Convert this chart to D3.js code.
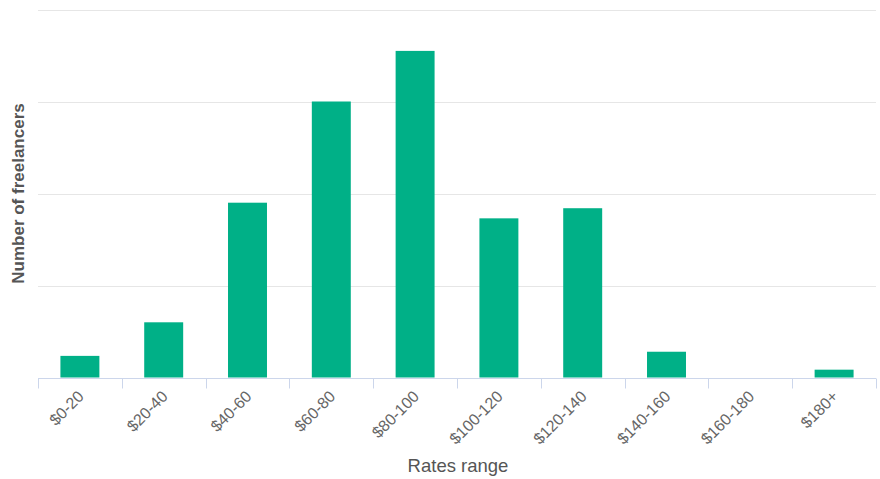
<!DOCTYPE html>
<html>
<head>
<meta charset="utf-8">
<script src="https://cdn.jsdelivr.net/npm/d3@7"></script>
<style>
  html, body { margin: 0; padding: 0; background: #fff; }
  svg { display: block; font-family: "Liberation Sans", Arial, sans-serif; }
</style>
</head>
<body>
<svg id="chart" width="880" height="479"></svg>
<script>
const categories = ["$0-20", "$20-40", "$40-60", "$60-80", "$80-100", "$100-120", "$120-140", "$140-160", "$160-180", "$180+"];
const freelancers = [4.7, 12, 38, 60, 71, 34.6, 36.8, 5.6, 0, 1.7];
const yTicks = [0, 20, 40, 60, 80];

const svg = d3.select("#chart");
const margin = { left: 38, right: 4, top: 9.5, bottom: 101.5 };
const W = 880, H = 479;
const x = d3.scaleBand().domain(categories).range([margin.left, W - margin.right]).paddingInner(0.535).paddingOuter(0.2675);
const y = d3.scaleLinear().domain([0, 80]).range([H - margin.bottom, margin.top]);

// gridlines
svg.append("g").selectAll("line").data(yTicks.filter(d => d > 0)).join("line")
  .attr("x1", margin.left).attr("x2", W - margin.right)
  .attr("y1", d => Math.round(y(d)) + 0.5).attr("y2", d => Math.round(y(d)) + 0.5)
  .attr("stroke", "#e6e6e6").attr("stroke-width", 1);

// bars
svg.append("g").selectAll("rect").data(categories).join("rect")
  .attr("x", d => x(d))
  .attr("width", x.bandwidth())
  .attr("y", (d, i) => y(freelancers[i]))
  .attr("height", (d, i) => y(0) - y(freelancers[i]))
  .attr("fill", "#00b087");

// x axis line
const base = Math.round(y(0)) + 0.5;
svg.append("line").attr("x1", margin.left).attr("x2", W - margin.right)
  .attr("y1", base).attr("y2", base).attr("stroke", "#ccd6eb");

// ticks at category boundaries
const boundaries = d3.range(categories.length + 1);
const xb = d3.scaleLinear().domain([0, categories.length]).range([margin.left, W - margin.right]);
svg.append("g").selectAll("line").data(boundaries).join("line")
  .attr("x1", d => Math.round(xb(d)) + 0.5).attr("x2", d => Math.round(xb(d)) + 0.5)
  .attr("y1", base).attr("y2", base + 10)
  .attr("stroke", "#ccd6eb");

// x labels
svg.append("g").selectAll("text").data(categories).join("text")
  .attr("transform", d => `translate(${x(d) + x.bandwidth() / 2 + 5},${base + 19}) rotate(-45)`)
  .attr("text-anchor", "end")
  .attr("font-size", 16)
  .attr("fill", "#666666")
  .text(d => d);

// axis titles
svg.append("text")
  .attr("x", (margin.left + W - margin.right) / 2 + 1)
  .attr("y", 472)
  .attr("text-anchor", "middle")
  .attr("font-size", 18.5)
  .attr("fill", "#555555")
  .text("Rates range");

svg.append("text")
  .attr("transform", `translate(23.5,${(y(0) + y(80)) / 2}) rotate(-90)`)
  .attr("text-anchor", "middle")
  .attr("font-size", 17)
  .attr("font-weight", "bold")
  .attr("fill", "#555555")
  .text("Number of freelancers");
</script>
</body>
</html>
